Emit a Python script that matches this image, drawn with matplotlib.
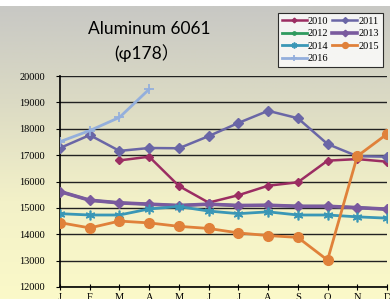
import numpy as np
import matplotlib
matplotlib.use("Agg")
import matplotlib.pyplot as plt
from matplotlib.colors import LinearSegmentedColormap

months = ["J", "F", "M", "A", "M", "J", "J", "A", "S", "O", "N", "D"]
y_ticks = [12000, 13000, 14000, 15000, 16000, 17000, 18000, 19000, 20000]

p2010 = [None, None, 16800, 16940, 15830, 15200, 15480, 15840, 15970, 16790, 16850, 16750]
p2011 = [17270, 17760, 17160, 17270, 17260, 17720, 18220, 18680, 18400, 17420, 16960, 16940]
p2012 = [15620, 15290, 15190, 15140, 15090, 15140, 15090, 15100, 15060, 15060, 15010, 14950]
p2013 = [15620, 15290, 15190, 15140, 15090, 15140, 15090, 15100, 15060, 15060, 15010, 14950]
p2014 = [14780, 14730, 14730, 14960, 15050, 14880, 14780, 14850, 14730, 14730, 14660, 14610]
p2015 = [14440, 14240, 14500, 14430, 14300, 14220, 14050, 13950, 13880, 13020, 16960, 17800]
p2016 = [17510, 17930, 18430, 19500]

fig = plt.figure(figsize=(3.9, 2.99), dpi=100)

# фон: серый сверху, бледно-жёлтый снизу
bg = fig.add_axes([0, 0, 1, 1 - 6 / 299], zorder=-10)
cmap = LinearSegmentedColormap.from_list("bg", ["#c8c8c4", "#dcdbc4", "#f3f1c8", "#fbf9c9"])
bg.imshow(np.linspace(0, 1, 256).reshape(-1, 1), aspect="auto", cmap=cmap,
          extent=[0, 1, 0, 1])
bg.axis("off")

ax = fig.add_axes([60 / 390, 12 / 299, 327 / 390, 211 / 299])
ax.patch.set_alpha(0)

x = np.arange(12)

def series(vals):
    return np.array([np.nan if v is None else v for v in vals], dtype=float)

ax.plot(x, series(p2012), color="#2e9a5e", lw=2.0, marker="o", ms=4, label="2012", zorder=2)
ax.plot(x, series(p2010), color="#9b2d62", lw=1.8, marker="D", ms=4, label="2010", zorder=3)
ax.plot(x, series(p2011), color="#6a66a6", lw=1.8, marker="D", ms=5, label="2011", zorder=3)
ax.plot(x, series(p2013), color="#7a5a9e", lw=2.6, marker="D", ms=5.5, label="2013", zorder=3)
ax.plot(x, series(p2014), color="#3a97b6", lw=2.0, marker=(6, 2, 0), ms=7, mew=1.2,
        label="2014", zorder=4)
ax.plot(x, series(p2015), color="#e0813a", lw=2.0, marker="o", ms=7, label="2015", zorder=4)
ax.plot(np.arange(len(p2016)), p2016, color="#94afdc", lw=2.0, marker="+", ms=7, mew=1.3,
        label="2016", zorder=4)

ax.set_xlim(0, 11)
ax.set_ylim(12000, 20000)
ax.set_yticks(y_ticks)
ax.set_yticklabels([str(v) for v in y_ticks], family="Liberation Serif", fontsize=7.5)
ax.set_xticks(x)
ax.set_xticklabels(months, family="Liberation Serif", fontsize=7.5)
ax.yaxis.grid(True, color="#222222", lw=1.0)
ax.set_axisbelow(True)
for s in ["top", "right"]:
    ax.spines[s].set_visible(False)
ax.spines["left"].set_linewidth(1.2)
ax.spines["bottom"].set_linewidth(1.2)
ax.tick_params(axis="y", direction="out", length=3, pad=8)
ax.tick_params(axis="x", direction="inout", length=5, pad=2)

fig.text(149 / 390, 1 - 29 / 299, "Aluminum 6061", ha="center", va="center",
         fontsize=12.5, family=["Lato", "Noto Sans CJK SC"])
fig.text(147 / 390, 1 - 53 / 299, "(φ178）", ha="center", va="center",
         fontsize=12.5, family=["Lato", "DejaVu Sans", "Noto Sans CJK SC"])

handles, labels = ax.get_legend_handles_labels()
# легенда заполняется по столбцам, поэтому порядок такой
order = ["2010", "2012", "2014", "2016", "2011", "2013", "2015"]
hd = dict(zip(labels, handles))
leg = fig.legend([hd[k] for k in order], order, ncol=2, loc="upper left",
                 bbox_to_anchor=(278 / 390, 1 - 13 / 299), frameon=True, fancybox=False,
                 prop={"family": "Liberation Serif", "size": 7.5}, handlelength=2.4,
                 handletextpad=0.1, columnspacing=0.4, labelspacing=0.3,
                 borderpad=0.35, borderaxespad=0, markerscale=0.6)
leg.get_frame().set_edgecolor("black")
leg.get_frame().set_linewidth(0.8)
leg.get_frame().set_facecolor("white")

fig.savefig("out.png", dpi=100)
